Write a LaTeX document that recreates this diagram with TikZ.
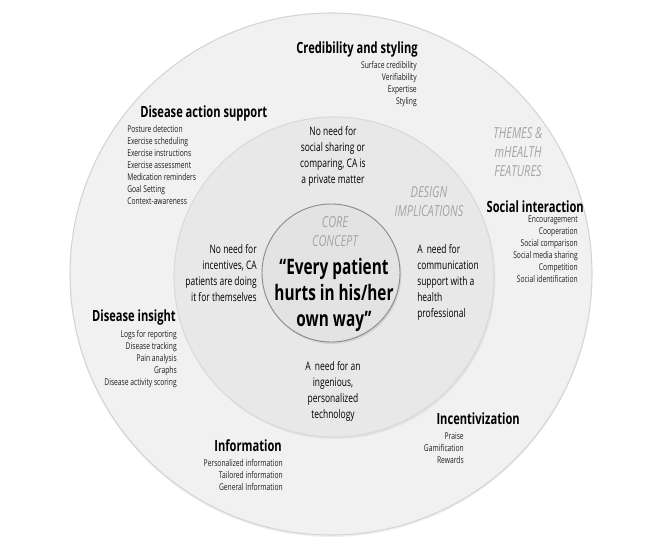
\documentclass[tikz,border=0pt]{standalone}
\usepackage{fontspec}
\setmainfont{Open Sans}[FakeStretch=0.72]
\usetikzlibrary{positioning,shadows}
\definecolor{ringA}{HTML}{F1F1F1}
\definecolor{ringB}{HTML}{E8E8E8}
\definecolor{ringC}{HTML}{E3E3E3}
\definecolor{tagGray}{HTML}{A4A4A4}

\begin{document}
\begin{tikzpicture}[x=0.75pt,y=-0.75pt,
    ring/.style={circle,inner sep=0pt},
    theme/.style={font=\fontsize{11.6}{13}\selectfont\bfseries,inner sep=0pt},
    feat/.style={font=\fontsize{7}{9}\selectfont,text=black!88,inner sep=0pt},
    impl/.style={font=\fontsize{8.8}{12}\selectfont,inner sep=0pt},
    tag/.style={font=\fontsize{11.4}{14.2}\selectfont\itshape,text=tagGray,align=center,inner sep=0pt}]

\useasboundingbox (0,0) rectangle (669,549);

% Rings
\node[ring,draw=black!17,line width=0.8pt,fill=ringA,minimum size=391.5pt,
      drop shadow={opacity=0.12,shadow xshift=0pt,shadow yshift=-1.5pt}] (outer) at (331,274) {};
\node[ring,draw=black!15,line width=0.8pt,fill=ringB,minimum size=240pt,
      drop shadow={opacity=0.12,shadow xshift=1pt,shadow yshift=-1.5pt}] (middle) at (334,277) {};
\node[ring,draw=black!45,line width=0.7pt,fill=ringC,minimum size=103.5pt,
      drop shadow={opacity=0.2,shadow xshift=1pt,shadow yshift=-1.5pt}] (core) at (331,273) {};

% Themes & mHealth features
\node[tag] (themes) at (518,152) {THEMES \&\\mHEALTH\\FEATURES};

\node[theme,anchor=east] (cred) at (418,49) {Credibility and styling};
\node[feat,align=right,anchor=north east] (credList) at (417,61)
    {Surface credibility\\Verifiability\\Expertise\\Styling};

\node[theme,anchor=west] (action) at (140,113) {Disease action support};
\node[feat,align=left,anchor=north west] (actionList) at (127,125)
    {Posture detection\\Exercise scheduling\\Exercise instructions\\Exercise assessment\\Medication reminders\\Goal Setting\\Context-awareness};

\node[theme,anchor=east] (social) at (584,207) {Social interaction};
\node[feat,align=right,anchor=north east] (socialList) at (578,216)
    {Encouragement\\Cooperation\\Social comparison\\Social media sharing\\Competition\\Social identification};

\node[theme,anchor=east] (insight) at (176,317) {Disease insight};
\node[feat,align=right,anchor=north east] (insightList) at (177,330)
    {Logs for reporting\\Disease tracking\\Pain analysis\\Graphs\\Disease activity scoring};

\node[theme,anchor=east] (incent) at (520,419) {Incentivization};
\node[feat,align=right,anchor=north east] (incentList) at (464,432)
    {Praise\\Gamification\\Rewards};

\node[theme,anchor=east] (info) at (282,446) {Information};
\node[feat,align=right,anchor=north east] (infoList) at (283,459)
    {Personalized information\\Tailored information\\General Information};

% Design implications
\node[tag] (design) at (429,202) {DESIGN\\IMPLICATIONS};

\node[impl,align=center] (privacy) at (333,156)
    {No need for\\social sharing or\\comparing, CA is\\a private matter};
\node[impl,align=right,anchor=east] (noIncent) at (257,273)
    {No need for\\incentives, CA\\patients are doing\\it for themselves};
\node[impl,align=left,anchor=west] (commSupport) at (417,282)
    {A\, need for\\communication\\support with a\\health\\professional};
\node[impl,align=center] (personal) at (333,391)
    {A\, need for an\\ingenious,\\personalized\\technology};

% Core concept
\node[tag] (concept) at (335,232) {CORE\\CONCEPT};
\node[font=\fontsize{16}{19.5}\selectfont\bfseries,align=center,inner sep=0pt] (quote) at (334,295)
    {“Every patient\\hurts in his/her\\own way”};

\end{tikzpicture}
\end{document}
